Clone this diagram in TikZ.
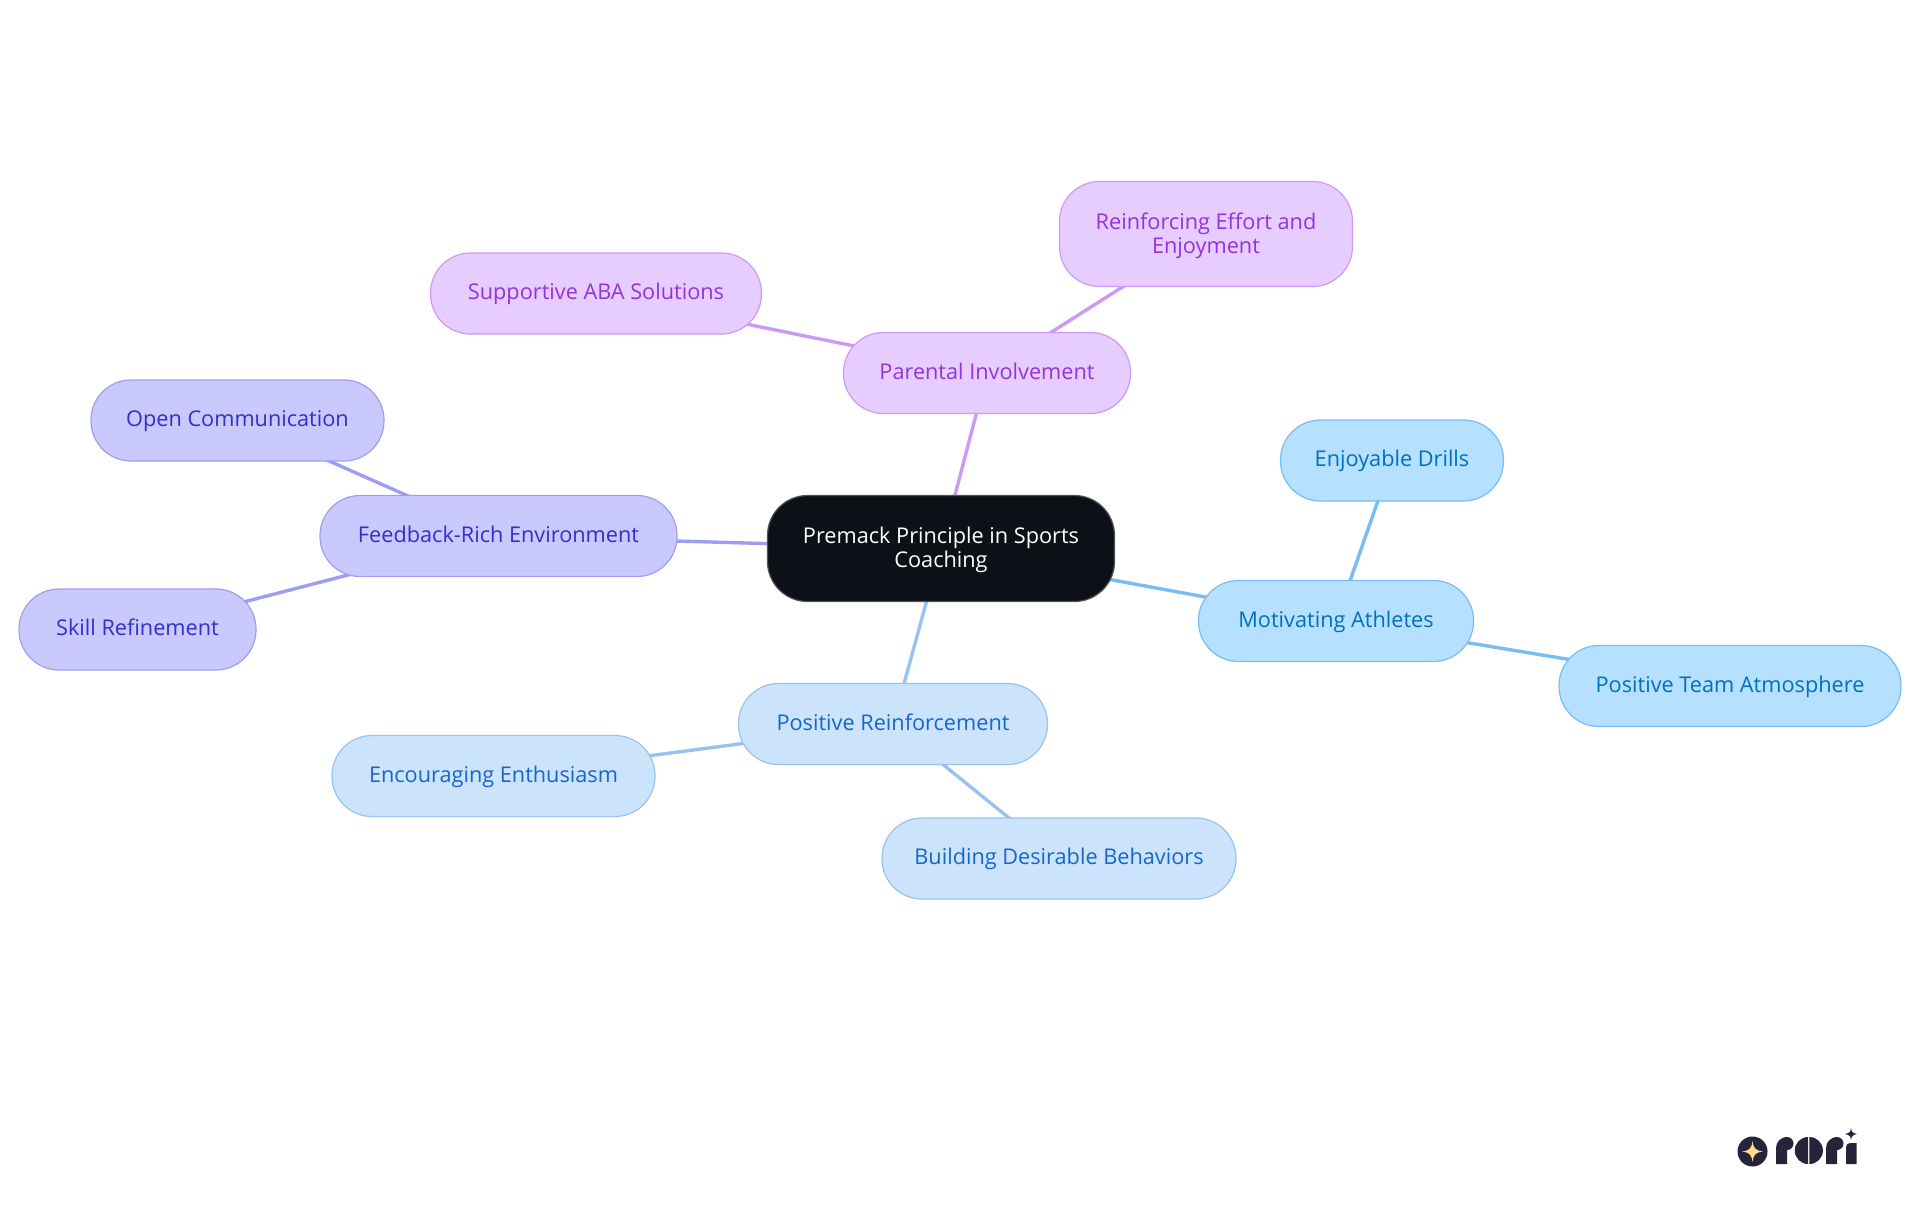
\documentclass[tikz,border=0pt]{standalone}
\usepackage{fontspec}
\setmainfont{Open Sans}
\usetikzlibrary{backgrounds}

\tikzset{
    topic/.style={draw, line width=0.6pt, rounded corners=20pt, minimum height=40.5pt,
        align=center, font=\fontsize{10.85}{12}\selectfont, inner sep=0pt,
        text height=9pt, text depth=3pt},
    twoline/.style={text height=, text depth=1.3pt},
    rootnode/.style={topic, twoline, draw=rootline, fill=rootfill, text=white},
    purplenode/.style={topic, draw=purpleline, fill=purplefill, text=purpletext},
    skynode/.style={topic, draw=skyline, fill=skyfill, text=skytext},
    bluenode/.style={topic, draw=blueline, fill=bluefill, text=bluetext},
    indigonode/.style={topic, draw=indigoline, fill=indigofill, text=indigotext},
    purplelink/.style={draw=purpleline, line width=1.7pt},
    skylink/.style={draw=skyline, line width=1.7pt},
    bluelink/.style={draw=blueline, line width=1.7pt},
    indigolink/.style={draw=indigoline, line width=1.7pt}
}
\definecolor{rootfill}{HTML}{0D1117}
\definecolor{rootline}{HTML}{50545A}
\definecolor{purplefill}{HTML}{E6CCFF}
\definecolor{purpleline}{HTML}{CC99F5}
\definecolor{purpletext}{HTML}{9333DD}
\definecolor{skyfill}{HTML}{B5E0FF}
\definecolor{skyline}{HTML}{78BDF2}
\definecolor{skytext}{HTML}{0070C0}
\definecolor{bluefill}{HTML}{CCE3FC}
\definecolor{blueline}{HTML}{99C2F0}
\definecolor{bluetext}{HTML}{1766CC}
\definecolor{indigofill}{HTML}{C9C9FF}
\definecolor{indigoline}{HTML}{9E9EF0}
\definecolor{indigotext}{HTML}{3030CC}
\definecolor{logodark}{HTML}{25243A}
\definecolor{logostar}{HTML}{FFDD88}

\begin{document}
\begin{tikzpicture}[x=0.5pt, y=-0.5pt]
    \useasboundingbox (0,0) rectangle (1920,1215);

    % Root
    \node [rootnode, minimum width=173.5pt, minimum height=53pt] (root) at (941,548.5) {Premack Principle in Sports\\Coaching};

    % Parental branch
    \node [purplenode, minimum width=143.5pt] (parental) at (987,373) {Parental Involvement};
    \node [purplenode, twoline, minimum width=146.5pt, minimum height=52.5pt] (effort) at (1206,234) {Reinforcing Effort and\\Enjoyment};
    \node [purplenode, minimum width=165.5pt] (aba) at (596,293.5) {Supportive ABA Solutions};

    % Feedback branch
    \node [indigonode, minimum width=178.5pt] (feedback) at (498.5,536) {Feedback-Rich Environment};
    \node [indigonode, minimum width=146.5pt] (open) at (237.5,420.5) {Open Communication};
    \node [indigonode, minimum width=118.5pt] (skill) at (137.5,629.5) {Skill Refinement};

    % Motivating branch
    \node [skynode, minimum width=137.5pt] (motivating) at (1336,621) {Motivating Athletes};
    \node [skynode, minimum width=111.5pt] (drills) at (1392,460.5) {Enjoyable Drills};
    \node [skynode, minimum width=171pt] (team) at (1730,686) {Positive Team Atmosphere};

    % Reinforcement branch
    \node [bluenode, minimum width=154.5pt] (reinforcement) at (893,724) {Positive Reinforcement};
    \node [bluenode, minimum width=161.5pt] (enthusiasm) at (493.5,776) {Encouraging Enthusiasm};
    \node [bluenode, minimum width=177pt] (behaviors) at (1059,858.5) {Building Desirable Behaviors};

    % Connectors
    \begin{scope}[on background layer]
        \draw [purplelink] (root.center) -- (parental.center);
        \draw [purplelink] (parental.center) -- (effort.center);
        \draw [purplelink] (parental.center) -- (aba.center);
        \draw [indigolink] (root.center) -- (feedback.center);
        \draw [indigolink] (feedback.center) -- (open.center);
        \draw [indigolink] (feedback.center) -- (skill.center);
        \draw [skylink] (root.center) -- (motivating.center);
        \draw [skylink] (motivating.center) -- (drills.center);
        \draw [skylink] (motivating.center) -- (team.center);
        \draw [bluelink] (root.center) -- (reinforcement.center);
        \draw [bluelink] (reinforcement.center) -- (enthusiasm.center);
        \draw [bluelink] (reinforcement.center) -- (behaviors.center);
    \end{scope}

    % Logo
    \fill [logodark] (1752.5,1151.5) circle (15);
    \fill [logostar] (1752.5,1141) .. controls (1753.5,1148.5) and (1755.5,1150.5) .. (1763,1151.5)
        .. controls (1755.5,1152.5) and (1753.5,1154.5) .. (1752.5,1162)
        .. controls (1751.5,1154.5) and (1749.5,1152.5) .. (1742,1151.5)
        .. controls (1749.5,1150.5) and (1751.5,1148.5) .. (1752.5,1141) -- cycle;
    % letter r
    \fill [logodark] (1776,1164) -- (1776,1148) arc (180:270:11) -- (1787,1164) -- cycle;
    \fill [logodark] (1787,1143.5) circle (6.5);
    % letter o
    \fill [logodark] (1808.2,1164) arc (90:270:13.5) -- cycle;
    \fill [logodark] (1809.4,1137) arc (-90:90:13.5) -- cycle;
    % letter r
    \fill [logodark] (1826,1164) -- (1826,1148) arc (180:270:11) -- (1837,1164) -- cycle;
    \fill [logodark] (1837,1143.5) circle (6.5);
    % letter i
    \fill [logodark] (1846,1164) -- (1846,1147) arc (180:270:4) -- (1856.5,1143) -- (1856.5,1164) -- cycle;
    \fill [logodark] (1851,1128) .. controls (1851.5,1132) and (1852.5,1133) .. (1857,1134)
        .. controls (1852.5,1135) and (1851.5,1136) .. (1851,1140)
        .. controls (1850.5,1136) and (1849.5,1135) .. (1845,1134)
        .. controls (1849.5,1133) and (1850.5,1132) .. (1851,1128) -- cycle;
\end{tikzpicture}
\end{document}
